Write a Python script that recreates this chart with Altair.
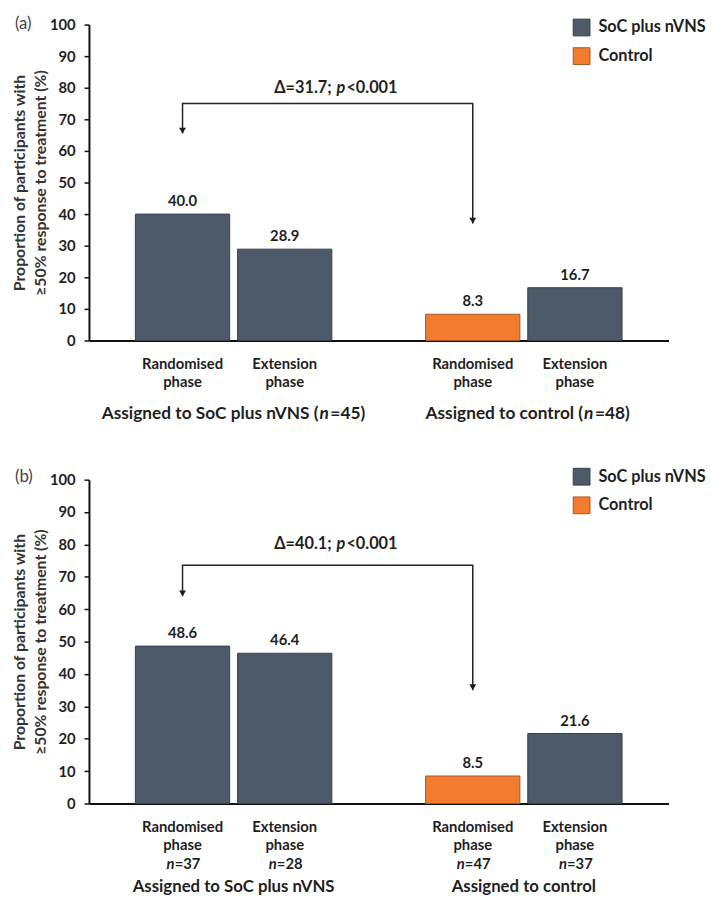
import altair as alt
import pandas as pd

# ---------------- data ----------------
groups = ["Assigned to SoC plus nVNS", "Assigned to control"]
phases = ["Randomised\nphase", "Extension\nphase"]
bar_group = [groups[0], groups[0], groups[1], groups[1]]
bar_phase = [phases[0], phases[1], phases[0], phases[1]]
bar_arm = ["SoC plus nVNS", "SoC plus nVNS", "Control", "SoC plus nVNS"]
values_a = [40.0, 28.9, 8.3, 16.7]
values_b = [48.6, 46.4, 8.5, 21.6]
n_b = ["=37", "=28", "=47", "=37"]
group_label_a_left = ["Assigned to SoC plus nVNS (", "Assigned to control ("]
group_label_a_right = ["=45)", "=48)"]
delta_a = "Δ=31.7;"
delta_b = "Δ=40.1;"
p_value = "<0.001"
# bracket: left arrow tip, bracket level, bracket level, right arrow tip
bracket_a = [65.5, 75.0, 75.0, 37.0]
bracket_b = [64.0, 73.6, 73.6, 35.0]
annot_level = 80
y_ticks = list(range(0, 101, 10))
legend_order = ["SoC plus nVNS", "Control"]
fill_colors = ["#4d5a69", "#f27b2f"]
stroke_colors = ["#36414d", "#a4582a"]
y_title = ["Proportion of participants with", "≥50% response to treatment (%)"]

W = 587
FONT = "Lato"
INK = "#1f1f1f"

x_enc = alt.X(
    "group:N", sort=groups,
    scale=alt.Scale(domain=groups, paddingInner=0.323, paddingOuter=0.16),
    axis=alt.Axis(labels=False, ticks=False, title=None, domainColor="#111",
                  domainWidth=2, grid=False),
)
xo_enc = alt.XOffset(
    "phase:N", sort=phases,
    scale=alt.Scale(domain=phases, paddingInner=0.077, paddingOuter=0),
)
y_enc = alt.Y(
    "value:Q",
    scale=alt.Scale(domain=[0, 100], nice=False),
    axis=alt.Axis(values=y_ticks, title=y_title, grid=False,
                  domainColor="#111", domainWidth=2, tickColor="#111",
                  tickWidth=1.5, tickSize=5, labelFont=FONT, labelFontSize=15,
                  labelFontWeight="bold", labelColor=INK, labelPadding=9,
                  titleFont=FONT, titleFontSize=16, titleFontWeight="bold",
                  titleColor="#333", titlePadding=1, titleLineHeight=21),
)


def panel(values, bracket, delta, tag, H, legend_y, tag_y, n_labels=None):
    bars_df = pd.DataFrame({"group": bar_group, "phase": bar_phase,
                            "arm": bar_arm, "value": values})
    base = alt.Chart(bars_df)
    bars = base.mark_bar(strokeWidth=1).encode(
        x=x_enc, xOffset=xo_enc, y=y_enc,
        fill=alt.Fill("arm:N", scale=alt.Scale(domain=legend_order, range=fill_colors),
                      legend=alt.Legend(title=None, orient="none", legendX=490,
                                        legendY=legend_y,
                                        symbolType="square", symbolSize=289,
                                        symbolStrokeWidth=1, symbolStrokeColor="#555",
                                        labelFont=FONT, labelFontSize=16.5,
                                        labelFontWeight="bold", labelColor=INK,
                                        labelOffset=8, rowPadding=7, padding=0)),
        stroke=alt.Stroke("arm:N", scale=alt.Scale(domain=legend_order, range=stroke_colors),
                          legend=None),
    )
    vals = base.mark_text(dy=-8, baseline="alphabetic", font=FONT, fontSize=15,
                          fontWeight="bold", color=INK).encode(
        x=x_enc, xOffset=xo_enc, y=y_enc, text=alt.Text("value:Q", format=".1f"))
    phase_lbl = base.mark_text(lineBreak="\n", baseline="alphabetic", lineHeight=18.5,
                               font=FONT, fontSize=15, fontWeight="bold", color=INK).encode(
        x=x_enc, xOffset=xo_enc, y=alt.value(H + 28.5), text="phase:N")

    br_df = pd.DataFrame({"group": [groups[0], groups[0], groups[1], groups[1]],
                          "phase": [phases[0]] * 4, "value": bracket, "o": [0, 1, 2, 3]})
    br = alt.Chart(br_df).mark_line(color="#222", strokeWidth=1.5).encode(
        x=x_enc, xOffset=xo_enc, y=y_enc, order="o:Q")
    tips_df = br_df.iloc[[0, 3]]
    tips = alt.Chart(tips_df).mark_point(
        shape="M -1 -1.7 L 1 -1.7 L 0 0 Z", filled=True, size=49, color="#1a1a1a",
        opacity=1, strokeWidth=0).encode(x=x_enc, xOffset=xo_enc, y=y_enc)

    ann_df = pd.DataFrame({"group": [groups[0]], "phase": [phases[0]],
                           "value": [annot_level], "t1": [delta], "t2": ["p"], "t3": [p_value]})
    ann_base = alt.Chart(ann_df)
    a1 = ann_base.mark_text(align="right", baseline="middle", dx=151, font=FONT,
                            fontSize=16.5, fontWeight="bold", color=INK).encode(
        x=x_enc, xOffset=xo_enc, y=y_enc, text="t1:N")
    a2 = ann_base.mark_text(align="left", baseline="middle", dx=156, font=FONT,
                            fontSize=16.5, fontWeight="bold", fontStyle="italic", color=INK).encode(
        x=x_enc, xOffset=xo_enc, y=y_enc, text="t2:N")
    a3 = ann_base.mark_text(align="left", baseline="middle", dx=166, font=FONT,
                            fontSize=16.5, fontWeight="bold", color=INK).encode(
        x=x_enc, xOffset=xo_enc, y=y_enc, text="t3:N")

    tag_df = pd.DataFrame({"tag": [tag]})
    tag_mark = alt.Chart(tag_df).mark_text(align="left", baseline="top", font=FONT,
                                           fontSize=17, color="#444").encode(
        x=alt.value(-75), y=alt.value(tag_y), text="tag:N")

    layers = [bars, vals, phase_lbl, br, tips, a1, a2, a3, tag_mark]

    if n_labels is None:
        g_df = pd.DataFrame({"group": groups, "left": group_label_a_left,
                             "nn": ["n", "n"], "right": group_label_a_right})
        for i, dxn in enumerate([87, 61]):
            gb = alt.Chart(g_df.iloc[[i]])
            layers.append(gb.mark_text(align="right", baseline="alphabetic", dx=dxn - 1,
                                       font=FONT, fontSize=17.5, fontWeight="bold", color=INK)
                          .encode(x=x_enc, y=alt.value(H + 80), text="left:N"))
            layers.append(gb.mark_text(align="left", baseline="alphabetic", dx=dxn,
                                       font=FONT, fontSize=17.5, fontWeight="bold",
                                       fontStyle="italic", color=INK)
                          .encode(x=x_enc, y=alt.value(H + 80), text="nn:N"))
            layers.append(gb.mark_text(align="left", baseline="alphabetic", dx=dxn + 11,
                                       font=FONT, fontSize=17.5, fontWeight="bold", color=INK)
                          .encode(x=x_enc, y=alt.value(H + 80), text="right:N"))
    else:
        n_df = pd.DataFrame({"group": bar_group, "phase": bar_phase,
                             "nn": ["n"] * 4, "rest": n_labels})
        nb = alt.Chart(n_df)
        layers.append(nb.mark_text(align="right", baseline="alphabetic", dx=-8, font=FONT,
                                   fontSize=15, fontWeight="bold", fontStyle="italic",
                                   color=INK)
                      .encode(x=x_enc, xOffset=xo_enc, y=alt.value(H + 66), text="nn:N"))
        layers.append(nb.mark_text(align="left", baseline="alphabetic", dx=-8, font=FONT,
                                   fontSize=15, fontWeight="bold", color=INK)
                      .encode(x=x_enc, xOffset=xo_enc, y=alt.value(H + 66), text="rest:N"))
        g_df = pd.DataFrame({"group": groups})
        layers.append(alt.Chart(g_df).mark_text(baseline="alphabetic", font=FONT,
                                                fontSize=17, fontWeight="bold", color=INK)
                      .encode(x=x_enc, y=alt.value(H + 90), text="group:N"))

    return alt.layer(*layers).properties(width=W, height=H)


panel_a = panel(values_a, bracket_a, delta_a, "(a)", H=320, legend_y=-6, tag_y=-8)
panel_b = panel(values_b, bracket_b, delta_b, "(b)", H=328, legend_y=-12, tag_y=-11,
                n_labels=n_b)

chart = (
    alt.vconcat(panel_a, panel_b, spacing=141, bounds="flush")
    .resolve_scale(fill="independent", stroke="independent")
    .resolve_legend(fill="independent")
    .configure(padding={"top": 2, "left": 3, "right": 0, "bottom": 0}, font=FONT)
    .configure_view(stroke=None)
)

chart.save("out.html", embed_options={"renderer": "svg", "actions": False})
